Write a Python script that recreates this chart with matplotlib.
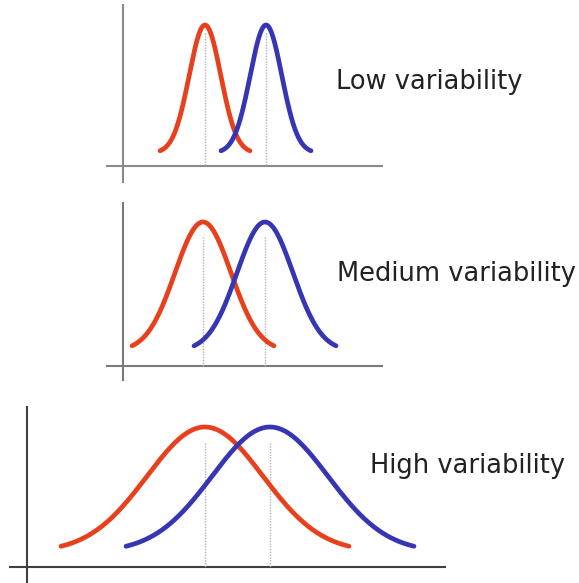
import numpy as np
import matplotlib.pyplot as plt

# panel data (pixel-like units, y grows downward)
labels = ["Low variability", "Medium variability", "High variability"]
red_means = [205, 203, 205]
blue_means = [266, 265, 270]
sigmas = [15.8, 28, 58]
half_spans = [45, 71, 144]
baselines = [153, 351, 552]
peaks = [25, 222, 427]
dot_tops = [33, 237, 443]

# axis lines per panel
vline_x = [123, 123, 27]
vline_y = [(5, 182), (203, 380), (407, 582)]
hline_y = [166, 366, 567]
hline_x = [(107, 382), (107, 382), (10, 445)]
axis_colors = ["#8a8a8a", "#7a7a7a", "#404040"]

label_x = [336, 337, 370]
label_y = [82, 274, 466]

RED = "#e8401c"
BLUE = "#3636b4"


def bell(x, mu, sigma, base, peak):
    return base - (base - peak) * np.exp(-0.5 * ((x - mu) / sigma) ** 2)


def main():
    fig = plt.figure(figsize=(5.79, 5.83), dpi=100)
    ax = fig.add_axes([0, 0, 1, 1])
    ax.set_xlim(0, 579)
    ax.set_ylim(583, 0)
    ax.axis("off")

    for i in range(3):
        # axes lines
        ax.plot([vline_x[i], vline_x[i]], vline_y[i], color=axis_colors[i], lw=1.5)
        ax.plot(hline_x[i], [hline_y[i], hline_y[i]], color=axis_colors[i], lw=1.5)

        # dotted mean lines
        for mu in (red_means[i], blue_means[i]):
            ax.plot([mu, mu], [dot_tops[i], hline_y[i]], color="#b0b0b0",
                    lw=1.0, ls=(0, (1, 1)))

        # curves
        for mu, col in ((red_means[i], RED), (blue_means[i], BLUE)):
            x = np.linspace(mu - half_spans[i], mu + half_spans[i], 400)
            y = bell(x, mu, sigmas[i], baselines[i], peaks[i])
            ax.plot(x, y, color=col, lw=3.4, solid_capstyle="round")

        ax.text(label_x[i], label_y[i], labels[i], fontsize=18.5,
                color="#222222", va="center", ha="left")

    plt.savefig("out.png", dpi=100)


if __name__ == '__main__':
    main()
